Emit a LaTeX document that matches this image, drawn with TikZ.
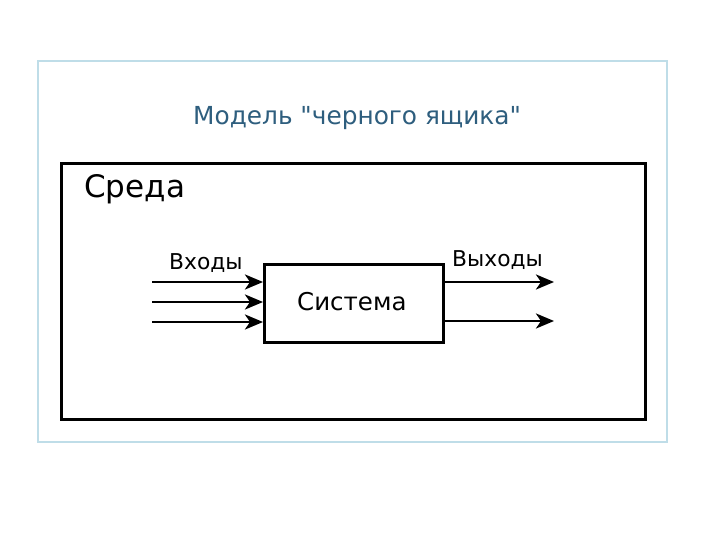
\documentclass[tikz,border=0pt]{standalone}
\usepackage{fontspec}
\setmainfont{DejaVu Sans}
\usetikzlibrary{arrows.meta}
\definecolor{titlecol}{HTML}{2E5E7E}
\definecolor{framecol}{HTML}{BFDDE8}
\begin{document}
\begin{tikzpicture}[x=1pt,y=-1pt,
  conn/.style={line width=2.8pt,-{Stealth[length=18pt,width=15pt,inset=5pt]}},
  lbl/.style={inner sep=0pt,anchor=base west}]
\useasboundingbox (0,0) rectangle (720,540);
\fill[white] (0,0) rectangle (720,540);
\draw[framecol,line width=2pt] (38,61) rectangle (667,442);
\node[titlecol,font=\fontsize{24.8}{28}\selectfont,inner sep=0pt,anchor=base west] (title) at (193,125) {Модель \textquotedbl черного ящика\textquotedbl};
\draw[black,line width=3pt] (61,164) rectangle (645,419);
\node[lbl,font=\fontsize{31}{34}\selectfont] (env) at (84,197) {Среда};
\node[draw,line width=2.6pt,minimum width=179pt,minimum height=78pt,inner sep=0pt,anchor=north west] (sys) at (263,263) {};
\node[lbl,font=\fontsize{24.5}{28}\selectfont] (syslbl) at (297,310) {Система};
\node[lbl,font=\fontsize{21.8}{24}\selectfont] (in) at (169,269) {Входы};
\node[lbl,font=\fontsize{21.8}{24}\selectfont] (out) at (452,266) {Выходы};
\coordinate (i1) at (152,282);
\coordinate (i2) at (152,302);
\coordinate (i3) at (152,322);
\coordinate (o1) at (554,282);
\coordinate (o2) at (554,321);
\draw[conn] (i1) -- (i1 -| sys.west);
\draw[conn] (i2) -- (i2 -| sys.west);
\draw[conn] (i3) -- (i3 -| sys.west);
\draw[conn] (o1 -| sys.east) -- (o1);
\draw[conn] (o2 -| sys.east) -- (o2);
\end{tikzpicture}
\end{document}
